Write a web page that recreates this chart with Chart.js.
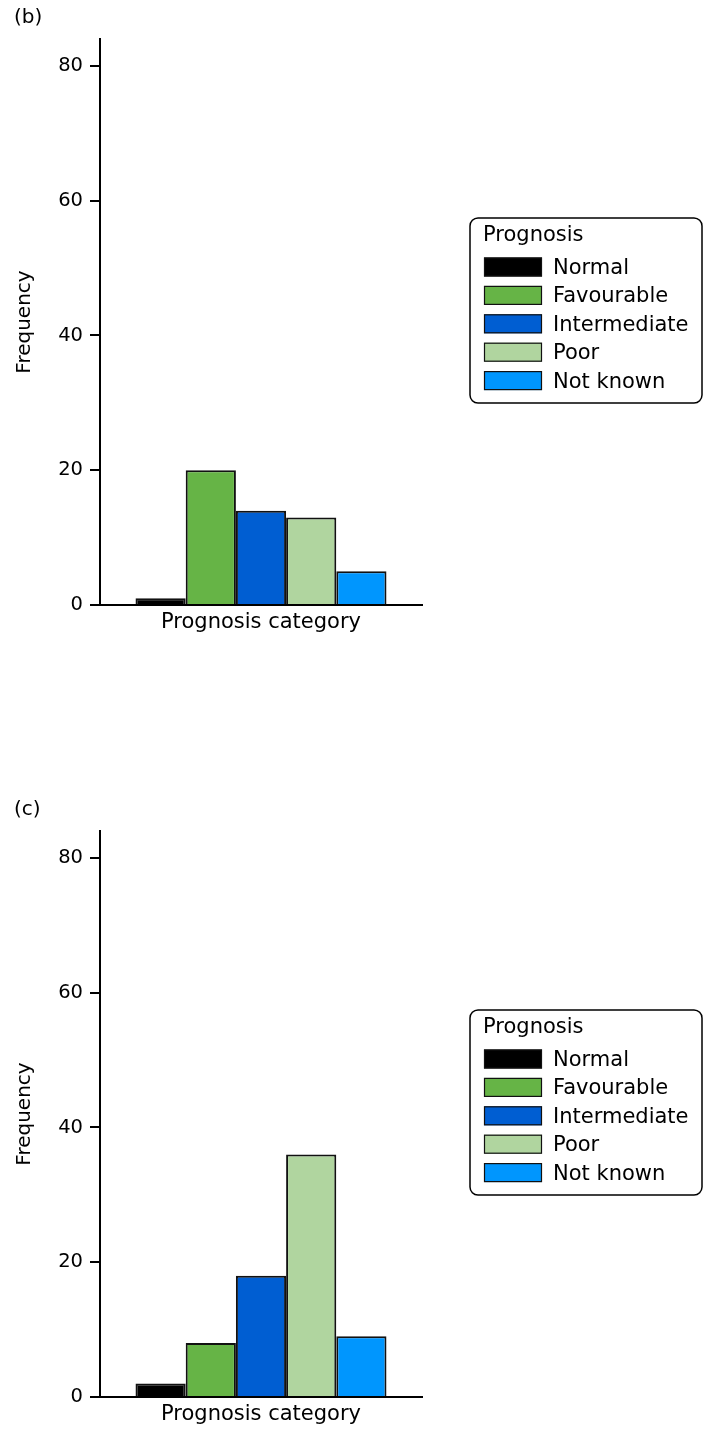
<!DOCTYPE html>
<html>
<head>
<meta charset="utf-8">
<title>Prognosis category frequencies</title>
<script src="https://cdn.jsdelivr.net/npm/chart.js@4.4.1/dist/chart.umd.min.js"></script>
<style>
  body { margin: 0; background: #fff; }
  canvas { display: block; }
  #panelC { margin-top: 152px; }
</style>
</head>
<body>
<canvas id="panelB" width="707" height="640"></canvas>
<canvas id="panelC" width="707" height="640"></canvas>
<script>
// legend entries, one bar each
const prognosisCategories = ['Normal', 'Favourable', 'Intermediate', 'Poor', 'Not known'];
const categoryColours = ['#000000', '#66b446', '#005ed2', '#b0d59f', '#0096fe'];

// frequencies
const frequenciesB = [1, 20, 14, 13, 5];
const frequenciesC = [2, 8, 18, 36, 9];

// axis
const yTicks = [0, 20, 40, 60, 80];
const yMax = 84;
const xTitle = 'Prognosis category';
const yTitle = 'Frequency';
const legendTitle = 'Prognosis';

Chart.defaults.font.family = '"DejaVu Sans", sans-serif';
Chart.defaults.font.size = 20;
Chart.defaults.color = '#000';

// legend drawn inside a rounded box, like the original figure
const boxedLegend = {
    id: 'boxedLegend',
    afterDraw(chart, args, opts) {
        const ctx = chart.ctx;
        ctx.save();
        ctx.lineWidth = 1.5;
        ctx.strokeStyle = '#000';
        ctx.beginPath();
        ctx.roundRect(opts.left, opts.top, opts.width, opts.height, 8);
        ctx.stroke();

        ctx.font = '21px "DejaVu Sans"';
        ctx.textBaseline = 'middle';
        ctx.textAlign = 'left';
        ctx.fillStyle = '#000';
        ctx.fillText(opts.title, opts.left + 13, opts.top + 18);

        chart.data.datasets.forEach((ds, i) => {
            const y = opts.top + 49 + i * opts.rowGap;
            ctx.fillStyle = ds.backgroundColor;
            ctx.fillRect(opts.left + 14, y - 9.5, 58, 19);
            ctx.lineWidth = 1.2;
            ctx.strokeStyle = '#111';
            ctx.strokeRect(opts.left + 14.5, y - 9, 57, 18);
            ctx.fillStyle = '#000';
            ctx.fillText(ds.label, opts.left + 83, y + 1.5);
        });
        ctx.restore();
    }
};

function makePanel(canvasId, panelLabel, frequencies) {
    const padLeft = 14;
    return new Chart(document.getElementById(canvasId), {
        type: 'bar',
        data: {
            labels: [''],
            datasets: prognosisCategories.map((name, i) => ({
                label: name,
                data: [frequencies[i]],
                backgroundColor: categoryColours[i],
                borderColor: '#111',
                borderWidth: 2,
                categoryPercentage: 0.7795,
                barPercentage: 1.0
            }))
        },
        options: {
            responsive: false,
            animation: false,
            devicePixelRatio: 1,
            layout: { padding: { left: padLeft, right: 285, top: 0, bottom: 0 } },
            plugins: {
                legend: { display: false },
                tooltip: { enabled: false },
                title: {
                    display: true,
                    text: panelLabel,
                    align: 'start',
                    font: { size: 20, weight: 'normal', lineHeight: 1 },
                    padding: { top: 8, bottom: 11 }
                },
                boxedLegend: {
                    left: 470, top: 218, width: 232, height: 185, rowGap: 28.4,
                    title: legendTitle
                }
            },
            scales: {
                x: {
                    z: 1,
                    grid: { display: false },
                    border: { color: '#000', width: 2 },
                    ticks: { display: false },
                    title: {
                        display: true,
                        text: xTitle,
                        font: { size: 21, lineHeight: 1 },
                        padding: { top: 0, bottom: 7 }
                    },
                    afterFit: (scale) => { scale.height = 35; }
                },
                y: {
                    min: 0,
                    max: yMax,
                    afterBuildTicks: (scale) => {
                        scale.ticks = yTicks.map(v => ({ value: v }));
                    },
                    ticks: { padding: 7, font: { size: 19.5 } },
                    grid: {
                        drawOnChartArea: false,
                        color: '#000',
                        lineWidth: 2,
                        tickLength: 10
                    },
                    border: { color: '#000', width: 2 },
                    title: {
                        display: true,
                        text: yTitle,
                        font: { size: 20, lineHeight: 1 },
                        padding: { top: 25 - 10 - padLeft, bottom: 0 }
                    },
                    afterFit: (scale) => { scale.width = 100 - padLeft; }
                }
            }
        },
        plugins: [boxedLegend]
    });
}

makePanel('panelB', '(b)', frequenciesB);
makePanel('panelC', '(c)', frequenciesC);
</script>
</body>
</html>
